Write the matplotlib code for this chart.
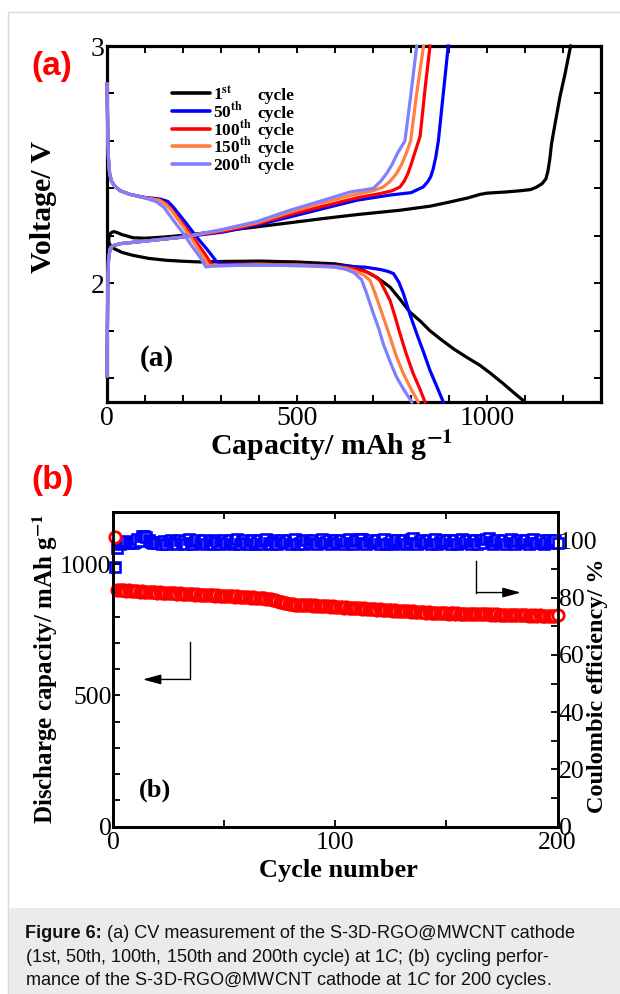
import numpy as np
import matplotlib
matplotlib.use("Agg")
import matplotlib.pyplot as plt
from matplotlib.ticker import MultipleLocator, FixedLocator
from matplotlib.lines import Line2D
from matplotlib.patches import Rectangle

# ---- panel (a): voltage profiles ----
# discharge branches
dis1_cap = [2, 4, 7, 12, 20, 40, 68, 110, 157, 200, 245, 300, 400, 500, 600, 650, 675, 710, 745, 770, 797,
            825, 850, 880, 912, 945, 982, 1010, 1043, 1070, 1100]
dis1_v = [2.20, 2.18, 2.165, 2.155, 2.145, 2.13, 2.118, 2.105, 2.097, 2.093, 2.09, 2.092, 2.094, 2.09, 2.082,
          2.07, 2.055, 2.025, 1.984, 1.935, 1.879, 1.84, 1.80, 1.762, 1.724, 1.69, 1.654, 1.62, 1.577, 1.54, 1.50]

dis50_cap = [0, 1, 2, 4, 7, 12, 20, 35, 60, 100, 140, 160, 175, 205, 236, 265, 289, 310, 400, 500, 600, 680,
             720, 740, 754, 768, 780, 797, 815, 833, 850, 868, 885]
dis50_v = [2.84, 2.75, 2.62, 2.52, 2.46, 2.43, 2.41, 2.39, 2.375, 2.362, 2.355, 2.345, 2.32, 2.26, 2.195, 2.14,
           2.09, 2.083, 2.08, 2.078, 2.075, 2.068, 2.058, 2.05, 2.041, 2.005, 1.957, 1.87, 1.788, 1.71, 1.633,
           1.565, 1.50]

dis100_cap = [0, 1, 2, 4, 7, 12, 20, 35, 60, 100, 140, 155, 170, 200, 230, 255, 277, 300, 400, 500, 600, 650,
              680, 700, 718, 730, 745, 758, 771, 788, 806, 822, 837]
dis100_v = [2.84, 2.75, 2.62, 2.52, 2.46, 2.43, 2.41, 2.39, 2.375, 2.36, 2.35, 2.335, 2.31, 2.25, 2.185, 2.13,
            2.077, 2.077, 2.08, 2.078, 2.072, 2.062, 2.05, 2.035, 2.013, 1.975, 1.928, 1.86, 1.788, 1.70, 1.619,
            1.56, 1.50]

dis150_cap = [0, 1, 2, 4, 7, 12, 20, 35, 60, 100, 138, 153, 168, 198, 228, 250, 268, 290, 400, 500, 600, 630,
              655, 675, 692, 705, 718, 732, 745, 762, 780, 800, 819]
dis150_v = [2.84, 2.75, 2.62, 2.52, 2.46, 2.43, 2.41, 2.39, 2.375, 2.36, 2.35, 2.335, 2.31, 2.245, 2.175, 2.12,
            2.074, 2.075, 2.078, 2.077, 2.07, 2.063, 2.05, 2.035, 2.013, 1.96, 1.90, 1.835, 1.773, 1.69, 1.619,
            1.555, 1.50]

dis200_cap = [0, 1, 2, 4, 7, 12, 20, 35, 60, 100, 131, 150, 175, 201, 222, 245, 260, 275, 350, 450, 550, 600,
              630, 650, 670, 685, 701, 715, 727, 745, 762, 780, 802]
dis200_v = [2.84, 2.75, 2.62, 2.52, 2.46, 2.43, 2.41, 2.39, 2.375, 2.36, 2.343, 2.32, 2.265, 2.21, 2.16, 2.11,
            2.069, 2.072, 2.076, 2.076, 2.072, 2.068, 2.058, 2.045, 2.015, 1.95, 1.872, 1.81, 1.745, 1.67, 1.605,
            1.555, 1.50]

# charge branches
chg1_cap = [2, 6, 10, 17, 25, 40, 69, 100, 150, 200, 245, 300, 394, 480, 569, 660, 771, 850, 903, 950, 982,
            1000, 1050, 1087, 1115, 1131, 1145, 1155, 1160, 1165, 1170, 1180, 1192, 1205, 1220]
chg1_v = [2.16, 2.20, 2.212, 2.218, 2.215, 2.205, 2.192, 2.19, 2.195, 2.202, 2.21, 2.22, 2.238, 2.255, 2.273,
          2.29, 2.308, 2.325, 2.343, 2.36, 2.375, 2.38, 2.385, 2.39, 2.395, 2.406, 2.42, 2.44, 2.47, 2.52, 2.59,
          2.68, 2.786, 2.88, 3.0]

chg50_cap = [0, 1, 2, 4, 8, 15, 34, 100, 200, 306, 394, 482, 569, 657, 745, 800, 832, 845, 852, 858, 865, 872,
             885, 898]
chg50_v = [1.61, 1.8, 2.0, 2.1, 2.145, 2.158, 2.167, 2.178, 2.195, 2.216, 2.245, 2.28, 2.315, 2.35, 2.372, 2.382,
           2.406, 2.43, 2.45, 2.48, 2.53, 2.60, 2.80, 3.0]

chg100_cap = [0, 1, 2, 4, 8, 15, 34, 100, 200, 306, 394, 482, 569, 657, 718, 750, 771, 782, 792, 800, 812, 824,
              837, 850]
chg100_v = [1.61, 1.8, 2.0, 2.1, 2.145, 2.158, 2.167, 2.178, 2.195, 2.22, 2.25, 2.29, 2.325, 2.36, 2.378, 2.39,
            2.406, 2.43, 2.463, 2.50, 2.56, 2.62, 2.82, 3.0]

chg150_cap = [0, 1, 2, 4, 8, 15, 34, 100, 200, 306, 394, 482, 569, 640, 700, 727, 745, 762, 775, 788, 799, 815,
              833]
chg150_v = [1.61, 1.8, 2.0, 2.1, 2.145, 2.158, 2.167, 2.178, 2.195, 2.225, 2.255, 2.30, 2.34, 2.37, 2.39, 2.406,
            2.43, 2.463, 2.50, 2.55, 2.60, 2.80, 3.0]

chg200_cap = [0, 1, 2, 4, 8, 15, 34, 100, 200, 306, 394, 482, 569, 640, 701, 720, 736, 750, 765, 784, 800, 815]
chg200_v = [1.61, 1.8, 2.0, 2.1, 2.145, 2.158, 2.167, 2.178, 2.195, 2.228, 2.26, 2.308, 2.35, 2.385, 2.40, 2.43,
            2.463, 2.50, 2.55, 2.60, 2.80, 3.0]

cycle_labels = ["1", "50", "100", "150", "200"]
cycle_sups = ["st", "th", "th", "th", "th"]
cycle_colors = ["#000000", "#0000ff", "#ff0000", "#ff8040", "#8080ff"]

# ---- panel (b): cycling data ----
capacity = [
    1105, 902, 901, 903, 900, 899, 901, 898, 899, 897,
    898, 896, 897, 895, 896, 894, 895, 893, 894, 892,
    893, 891, 892, 890, 891, 889, 890, 889, 888, 889,
    887, 888, 886, 887, 885, 886, 884, 885, 884, 883,
    884, 882, 883, 881, 882, 880, 881, 880, 879, 880,
    878, 879, 877, 878, 876, 877, 876, 875, 876, 874,
    875, 873, 874, 872, 873, 871, 872, 870, 869, 867,
    866, 864, 862, 860, 857, 855, 853, 851, 849, 848,
    847, 846, 846, 845, 845, 844, 845, 843, 844, 842,
    843, 841, 842, 840, 841, 839, 840, 838, 839, 837,
    838, 836, 837, 835, 836, 834, 835, 833, 834, 832,
    833, 831, 832, 830, 831, 829, 828, 829, 827, 828,
    826, 827, 825, 824, 825, 823, 824, 822, 823, 821,
    822, 820, 821, 819, 820, 818, 819, 818, 817, 818,
    816, 817, 815, 816, 815, 814, 815, 813, 814, 813,
    812, 813, 814, 812, 813, 811, 812, 811, 810, 811,
    810, 811, 812, 810, 811, 809, 810, 809, 810, 808,
    809, 808, 809, 807, 808, 807, 808, 806, 807, 806,
    807, 806, 805, 806, 805, 806, 804, 805, 804, 805,
    804, 805, 803, 804, 803, 804, 803, 804, 803, 805,
]
efficiency = [
    90.8, 97.2, 98.8, 99.3, 99.1, 99.6, 99.2, 99.5, 99.0, 99.4,
    100.3, 99.8, 101.4, 101.6, 101.2, 100.1, 99.4, 99.1, 99.3, 99.0,
    99.4, 98.8, 99.9, 98.7, 99.6, 100.2, 98.9, 99.5, 98.6, 100.1,
    99.0, 99.8, 98.7, 100.3, 99.2, 98.8, 99.7, 100.0, 98.9, 99.4,
    100.2, 98.7, 99.5, 99.9, 98.8, 100.1, 99.3, 98.6, 99.8, 100.2,
    98.9, 99.6, 100.0, 98.7, 99.4, 100.3, 98.8, 99.7, 100.1, 99.0,
    98.7, 99.9, 100.2, 98.8, 99.5, 100.0, 98.6, 99.6, 100.3, 99.1,
    98.8, 100.1, 99.4, 98.7, 99.9, 100.2, 98.9, 99.3, 100.0, 98.7,
    99.6, 100.3, 98.8, 99.2, 99.9, 98.6, 100.1, 99.5, 98.9, 100.2,
    99.0, 98.7, 99.8, 100.3, 98.9, 99.4, 100.0, 98.8, 99.7, 100.2,
    98.9, 99.5, 100.1, 98.7, 99.8, 100.4, 99.0, 98.8, 99.9, 100.2,
    100.5, 100.6, 99.1, 98.8, 99.7, 100.1, 98.9, 99.4, 100.2, 98.7,
    99.6, 100.3, 98.8, 99.2, 100.0, 98.7, 99.5, 100.1, 98.9, 99.8,
    100.2, 98.8, 99.4, 100.6, 100.7, 99.0, 98.7, 99.9, 100.2, 98.9,
    99.5, 100.1, 98.7, 99.8, 100.3, 98.8, 99.3, 100.0, 98.9, 99.6,
    100.2, 98.7, 99.9, 100.1, 98.8, 99.4, 100.3, 98.9, 99.7, 100.0,
    98.8, 99.6, 100.2, 98.7, 99.9, 100.1, 99.0, 100.6, 100.7, 99.3,
    98.8, 99.8, 100.2, 98.9, 99.5, 100.1, 98.7, 99.9, 100.3, 99.0,
    98.8, 99.7, 100.2, 98.9, 99.4, 100.0, 98.7, 99.8, 100.3, 99.1,
    98.9, 99.6, 100.1, 98.8, 99.5, 100.2, 98.9, 99.7, 100.0, 99.1,
]
cycles = np.arange(1, len(capacity) + 1)

caption_lines = [
    ("Figure 6:", "(a) CV measurement of the S-3D-RGO@MWCNT cathode"),
    ("", r"(1st, 50th, 100th, 150th and 200th cycle) at 1$\mathit{C}$; (b) cycling perfor-"),
    ("", r"mance of the S-3D-RGO@MWCNT cathode at 1$\mathit{C}$ for 200 cycles."),
]

W, H = 620, 994
def fx(px):
    return px / W
def fy(py):
    return 1 - py / H

plt.rcParams["font.family"] = ["Liberation Serif", "DejaVu Serif"]
plt.rcParams["mathtext.fontset"] = "custom"
plt.rcParams["mathtext.rm"] = "Liberation Sans"
plt.rcParams["mathtext.it"] = "Liberation Sans:italic"
plt.rcParams["mathtext.bf"] = "Liberation Sans:bold"

fig = plt.figure(figsize=(W / 100, H / 100), dpi=100)

# page frame and caption box
fig.add_artist(Rectangle((fx(8), -0.01), 1.0, fy(12) + 0.01, transform=fig.transFigure,
                         facecolor="none", edgecolor="#d9d9d9", lw=1.0))
fig.add_artist(Rectangle((fx(8.5), 0), 1.0, fy(908), transform=fig.transFigure,
                         facecolor="#ebebeb", edgecolor="none"))

# ================= panel (a) =================
ax = fig.add_axes([fx(107), fy(402), fx(601) - fx(107), fy(46) - fy(402)])
dis_sets = [(dis1_cap, dis1_v), (dis50_cap, dis50_v), (dis100_cap, dis100_v),
            (dis150_cap, dis150_v), (dis200_cap, dis200_v)]
chg_sets = [(chg1_cap, chg1_v), (chg50_cap, chg50_v), (chg100_cap, chg100_v),
            (chg150_cap, chg150_v), (chg200_cap, chg200_v)]
for (dc, dv), (cc, cv), col in zip(dis_sets, chg_sets, cycle_colors):
    ax.plot(dc, dv, color=col, lw=2.3, solid_joinstyle="round", zorder=3, clip_on=False)
    ax.plot(cc, cv, color=col, lw=2.3, solid_joinstyle="round", zorder=3, clip_on=False)

ax.set_xlim(0, 1300)
ax.set_ylim(1.5, 3.0)
ax.xaxis.set_major_locator(FixedLocator([0, 500, 1000]))
ax.xaxis.set_minor_locator(MultipleLocator(100))
ax.yaxis.set_major_locator(FixedLocator([2, 3]))
ax.yaxis.set_minor_locator(MultipleLocator(0.2))
ax.tick_params(which="both", direction="in", top=True, right=True, length=5, width=1.4)
ax.tick_params(axis="both", labelsize=20, pad=3)
ax.tick_params(axis="y", pad=2)
for s in ax.spines.values():
    s.set_linewidth(2.3)

# legend, drawn by hand to keep the "cycle" words aligned
row_y = [93.3, 111.0, 128.7, 146.3, 164.0]
for lab, sup, col, ry in zip(cycle_labels, cycle_sups, cycle_colors, row_y):
    fig.add_artist(Line2D([fx(172), fx(210)], [fy(ry), fy(ry)], color=col, lw=2.6,
                          transform=fig.transFigure, solid_capstyle="round"))
    fig.text(fx(213), fy(ry + 6.5), lab + r"$^{\mathbf{" + sup + "}}$", fontsize=12.5,
             fontweight="bold", va="baseline", ha="left", math_fontfamily="stix")
    fig.text(fx(257), fy(ry + 6.5), "cycle", fontsize=12.5, fontweight="bold",
             va="baseline", ha="left")

ax.text(0.1006, 0.1208, "(a)", transform=ax.transAxes, fontsize=21, fontweight="bold",
        ha="center", va="center")
fig.text(fx(51), fy(206.5), "Voltage/ V", rotation=90, rotation_mode="anchor",
         ha="center", va="baseline", fontsize=21.5, fontweight="bold")
fig.text(fx(332), fy(455), r"Capacity/ mAh g$^{\mathbf{-1}}$", ha="center", va="baseline",
         fontsize=21.5, fontweight="bold", math_fontfamily="stix")

# ================= panel (b) =================
axb = fig.add_axes([fx(113), fy(826.7), fx(557.5) - fx(113), fy(511.7) - fy(826.7)])
axr = axb.twinx()
axr.plot(cycles, efficiency, ls="none", marker="s", ms=7.6, mfc="white", mec="#0000ff",
         mew=1.9, clip_on=False)
axb.plot(cycles, capacity, ls="none", marker="o", ms=8.2, mfc="white", mec="#ff0000",
         mew=2.0, clip_on=False)
axb.set_zorder(axr.get_zorder() + 1)
axb.patch.set_visible(False)

axb.set_xlim(0, 200)
axb.set_ylim(0, 1200)
axr.set_ylim(0, 110)
axb.xaxis.set_major_locator(MultipleLocator(100))
axb.xaxis.set_minor_locator(MultipleLocator(50))
axb.yaxis.set_major_locator(FixedLocator([0, 500, 1000]))
axb.yaxis.set_minor_locator(MultipleLocator(100))
axr.yaxis.set_major_locator(FixedLocator([0, 20, 40, 60, 80, 100]))
axr.yaxis.set_minor_locator(MultipleLocator(10))
axb.tick_params(which="both", direction="in", top=True, right=False, length=5, width=1.3)
axb.tick_params(axis="both", labelsize=18.5, pad=4)
axb.tick_params(axis="y", pad=1)
axr.tick_params(which="both", direction="in", length=5, width=1.3)
axr.tick_params(axis="y", labelsize=18.5, pad=1)
for s in list(axb.spines.values()) + list(axr.spines.values()):
    s.set_linewidth(2.0)

# guide arrows
axb.plot([34.8, 34.8], [702, 561], color="black", lw=1.0)
axb.annotate("", xy=(13.4, 561), xytext=(34.8, 561),
             arrowprops=dict(arrowstyle="-|>,head_length=1.1,head_width=0.3", color="black",
                             lw=1.0, shrinkA=0, shrinkB=0))
axb.plot([163.5, 163.5], [1012, 892], color="black", lw=1.0)
axb.annotate("", xy=(183.5, 892), xytext=(163.5, 892),
             arrowprops=dict(arrowstyle="-|>,head_length=1.1,head_width=0.3", color="black",
                             lw=1.0, shrinkA=0, shrinkB=0))

axb.text(0.0938, 0.1165, "(b)", transform=axb.transAxes, fontsize=19, fontweight="bold",
         ha="center", va="center")
fig.text(fx(338), fy(877), "Cycle number", ha="center", va="baseline", fontsize=19,
         fontweight="bold")
fig.text(fx(53), fy(669), r"Discharge capacity/ mAh g$^{\mathbf{-1}}$", rotation=90,
         rotation_mode="anchor", ha="center", va="baseline", fontsize=18,
         fontweight="bold", math_fontfamily="stix")
fig.text(fx(603), fy(686), "Coulombic efficiency/ %", rotation=90, rotation_mode="anchor",
         ha="center", va="baseline", fontsize=17.5, fontweight="bold")

# red panel tags
fig.text(fx(51.5), fy(67), "(a)", color="#ff0000", fontsize=24, fontweight="bold",
         family="Liberation Sans", ha="center", va="center")
fig.text(fx(52.5), fy(480), "(b)", color="#ff0000", fontsize=24, fontweight="bold",
         family="Liberation Sans", ha="center", va="center")

# caption
renderer = fig.canvas.get_renderer()
base_y = [938.3, 961.8, 985.3]
cap_size = 13.1
for (bold, rest), by in zip(caption_lines, base_y):
    x0 = fx(25)
    if bold:
        tb = fig.text(x0, fy(by), bold, family="Liberation Sans", fontweight="bold",
                      fontsize=cap_size, va="baseline", ha="left", color="#111111")
        bb = tb.get_window_extent(renderer)
        x0 = (bb.x1 + cap_size * 100 / 72 * 0.278) / W
    fig.text(x0, fy(by), rest, family="Liberation Sans", fontsize=cap_size, va="baseline",
             ha="left", color="#111111")

fig.savefig("out.png", dpi=100)
